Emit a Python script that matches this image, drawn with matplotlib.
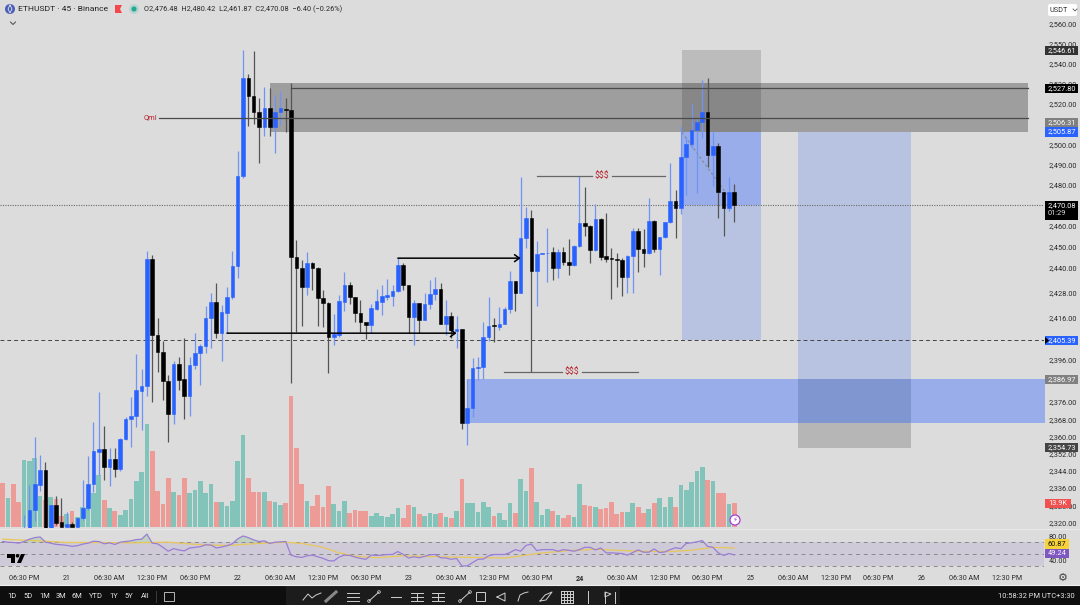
import numpy as np
import matplotlib
matplotlib.use("Agg")
import matplotlib.pyplot as plt
from matplotlib.patches import Rectangle, Circle, Polygon, FancyBboxPatch
from matplotlib.ticker import NullLocator

plt.rcParams['font.family'] = ['Roboto', 'DejaVu Sans']

# candles, first four bars sit below the visible price range
first_bar = 4
opens = [
    2316, 2315, 2326.1, 2337.6, 2344.5, 2316, 2328.4, 2320.5, 2318.2, 2319.6,
    2318.2, 2322.4, 2327, 2338, 2352.7, 2354.1, 2345.8, 2349.5, 2344.9, 2358.6,
    2368, 2369.4, 2381.1, 2383.4, 2443.9, 2407.4, 2399.8, 2385.8, 2370.4, 2394.1,
    2386.7, 2378.8, 2393.2, 2399.3, 2402.2, 2415.5, 2423.2, 2408.4, 2417.9, 2425.6,
    2440.5, 2484.4, 2533, 2524, 2516, 2508.5, 2518, 2508.5, 2516, 2517.5,
    2517, 2444.9, 2439.5, 2430.4, 2441.9, 2439.5, 2425.1, 2422.7, 2406.5, 2407.4,
    2423.2, 2431.4, 2425.6, 2417.9, 2413.6, 2412.2, 2419.8, 2423.2, 2425.6, 2426.1,
    2428.5, 2441, 2431.4, 2416, 2422.7, 2415, 2422.2, 2427, 2429.4, 2413.1,
    2416.5, 2409.3, 2410.3, 2366.1, 2373.2, 2391.8, 2392.7, 2406.5, 2412.2, 2411.2,
    2413.1, 2419.8, 2433.3, 2427.5, 2454.1, 2463.9, 2438.1, 2446.3, 2446.8, 2447.3,
    2439.5, 2447.3, 2442.4, 2441, 2450.2, 2461.5, 2460, 2448.3, 2463.4, 2445.4,
    2444.4, 2443.9, 2443.4, 2435.2, 2445.4, 2457.6, 2448.8, 2446.8, 2462.4, 2448.8,
    2454.6, 2462, 2472.2, 2468.8, 2493.7, 2500, 2507, 2511, 2516, 2494.6,
    2499, 2476.6, 2468.8, 2476.48]
highs = [
    2323.8, 2337.6, 2359.5, 2351.3, 2348.1, 2328.4, 2332.5, 2331.6, 2325.1, 2320.5,
    2322.4, 2339.9, 2350.9, 2366.6, 2380.7, 2364.8, 2354.5, 2354.5, 2359, 2368.9,
    2378.3, 2398.4, 2391.4, 2447.8, 2445.8, 2415.5, 2405, 2388.6, 2395.5, 2397,
    2406, 2397, 2408.4, 2403.6, 2421.3, 2427.5, 2432.3, 2421.8, 2430.4, 2447.8,
    2496.6, 2547, 2535, 2546.5, 2523, 2528.5, 2528, 2524.5, 2526.5, 2523,
    2530.5, 2453.2, 2443.4, 2447.3, 2442.4, 2440, 2429, 2423.2, 2417.4, 2426.6,
    2437.6, 2432.8, 2425.6, 2424.2, 2413.6, 2422.2, 2429.4, 2431.4, 2434.2, 2431.4,
    2444.4, 2441.9, 2431.4, 2424.2, 2422.7, 2427.5, 2433.8, 2435.2, 2432.3, 2424.2,
    2418.4, 2416.5, 2410.3, 2386.7, 2396.5, 2397, 2413.6, 2425.6, 2415.5, 2420.8,
    2420.8, 2438.1, 2433.3, 2483.9, 2469.3, 2467.8, 2452.7, 2446.8, 2459, 2449.8,
    2448.8, 2449.8, 2453.7, 2450.7, 2484.4, 2479, 2460.5, 2470.7, 2463.9, 2466.3,
    2449.3, 2446.8, 2444.4, 2445.8, 2459, 2459, 2458.5, 2473.7, 2462.9, 2454.6,
    2462, 2490.7, 2477.6, 2509, 2503.5, 2520, 2513, 2532, 2533, 2506,
    2500.5, 2476.6, 2483.9, 2480.42]
lows = [
    2310, 2314, 2321, 2334.8, 2315, 2315, 2319, 2318, 2318, 2318,
    2318, 2321.4, 2326.1, 2334.3, 2342.2, 2339.9, 2337.1, 2341.2, 2344, 2358.2,
    2355, 2364.3, 2362.8, 2378.8, 2376, 2390, 2376.9, 2357.3, 2365.7, 2381.6,
    2368, 2369.4, 2391.4, 2383.9, 2398.9, 2401.7, 2406, 2395.5, 2408.4, 2425,
    2434.7, 2483.4, 2509, 2510, 2490.7, 2504, 2504, 2495.6, 2509.5, 2506,
    2384.8, 2408.9, 2411.7, 2426.6, 2429, 2411.7, 2411.2, 2389.5, 2403.1, 2406.5,
    2418.9, 2422.2, 2413.6, 2408.9, 2405.5, 2408.4, 2419.4, 2417, 2424.2, 2421.3,
    2428, 2429, 2408.4, 2403.1, 2408.4, 2414.6, 2419.8, 2424.2, 2413.1, 2407.4,
    2406, 2401.7, 2363.3, 2355.9, 2368.9, 2386.2, 2386.7, 2405, 2404.1, 2409.8,
    2412.7, 2417.9, 2418.9, 2427.5, 2449.3, 2390, 2421.3, 2446.3, 2432.8, 2433.8,
    2434.7, 2441, 2436.2, 2440.5, 2449.8, 2455.1, 2441.9, 2447.8, 2443.4, 2442.4,
    2424.6, 2430.4, 2426.1, 2427.5, 2427.5, 2437.6, 2440, 2446.3, 2447.3, 2436.2,
    2454.1, 2461.5, 2454.1, 2465.8, 2475.1, 2498, 2476.1, 2503, 2488.8, 2479.5,
    2463.9, 2455.1, 2467.3, 2461.87]
closes = [
    2317, 2326.1, 2338, 2344.5, 2316, 2328.4, 2320, 2318.2, 2319.6, 2318.2,
    2322.4, 2327, 2338, 2353.1, 2354.1, 2345.8, 2349.5, 2344.9, 2358.6, 2368,
    2369.4, 2381.6, 2383.4, 2443.9, 2407.4, 2399.8, 2385.8, 2370.4, 2394.1, 2386.2,
    2378.8, 2393.2, 2399.3, 2402.2, 2415.5, 2423.2, 2408.4, 2418.4, 2425.6, 2440.5,
    2484.4, 2533, 2524, 2516, 2508.5, 2518, 2508.5, 2516, 2518, 2517,
    2444.9, 2439.5, 2430.4, 2441.9, 2439.5, 2425.1, 2422.7, 2406.5, 2407.9, 2423.7,
    2431.4, 2425.6, 2417.9, 2413.6, 2412.2, 2420.3, 2423.7, 2426.1, 2426.6, 2428.5,
    2441, 2431.4, 2416, 2422.7, 2415, 2422.2, 2427, 2429.4, 2413.1, 2416.5,
    2409.8, 2410.3, 2366.1, 2373.2, 2391.8, 2392.7, 2406.5, 2411.7, 2411.7, 2413.1,
    2419.8, 2433.3, 2427.5, 2454.1, 2463.9, 2438.1, 2446.3, 2446.8, 2447.1, 2439.5,
    2447.3, 2442.4, 2441, 2450.2, 2461.5, 2460, 2448.3, 2463.4, 2444.9, 2443.9,
    2443.9, 2443.4, 2435.2, 2445.4, 2457.6, 2448.8, 2446.8, 2462.4, 2448.8, 2454.6,
    2462, 2472.2, 2468.8, 2493.7, 2500, 2507, 2511, 2516, 2494.6, 2499,
    2476.6, 2468.8, 2476.6, 2470.08]

# volume in thousands, from bar 0
volumes = [
    25.3, 16.6, 24.9, 14.7, 38.9, 38.3, 40.2, 18.0, 15.7, 17.6,
    16.0, 6.4, 7.5, 9.3, 5.6, 11.4, 15.7, 19.5, 30.2, 15.7,
    11.0, 9.5, 6.8, 9.9, 16.2, 26.9, 32.1, 59.9, 43.9, 20.7,
    13.1, 28.2, 20.5, 18.8, 28.2, 19.9, 21.5, 26.7, 19.9, 24.9,
    14.7, 14.5, 12.2, 15.3, 38.1, 53.4, 28.2, 20.5, 20.5, 20.1,
    15.1, 14.3, 12.8, 13.9, 76.2, 45.6, 24.7, 14.9, 12.0, 18.8,
    11.8, 24.0, 13.5, 9.1, 14.9, 8.3, 9.7, 9.1, 9.1, 6.2,
    7.9, 6.2, 5.6, 7.5, 10.8, 5.4, 13.0, 11.6, 7.7, 6.6,
    8.3, 7.5, 7.9, 5.6, 5.2, 9.3, 27.8, 14.1, 13.7, 8.9,
    14.7, 11.8, 6.6, 7.9, 4.3, 13.7, 8.3, 27.8, 20.7, 34.0,
    14.5, 7.2, 10.4, 9.5, 7.0, 5.0, 7.0, 5.6, 25.1, 12.8,
    12.2, 11.6, 10.4, 11.2, 14.7, 7.5, 8.9, 8.5, 14.1, 11.8,
    8.3, 10.6, 13.7, 16.6, 11.8, 17.4, 11.8, 24.6, 21.3, 26.1,
    32.5, 34.6, 27.1, 26.9, 19.9, 19.7, 13.1, 13.9]
first_vol_up = [False, True, False, False]

rsi = [
    71.6, 70.5, 70, 68.9, 71.6, 75.4, 78.1, 79.2, 70.5, 68.9,
    66.7, 66.2, 65.1, 63.5, 64.6, 67.3, 68.9, 72.1, 71.6, 67.8,
    69.4, 66.7, 70.5, 71.6, 72.7, 74.8, 75.4, 84, 68.9, 67.8,
    61.9, 55.4, 59.7, 57.6, 55.9, 60.8, 61.9, 63, 66.2, 65.7,
    60.8, 62.4, 64.6, 67.8, 75.9, 80.8, 78.1, 74.3, 71.6, 72.7,
    68.4, 70.5, 71, 71.6, 48.9, 46.2, 45.1, 47.8, 48.9, 46.2,
    43.5, 39.7, 39.2, 45.7, 48.9, 48.4, 45.7, 43.5, 41.9, 48.9,
    48.4, 48.9, 50, 50, 54.9, 50, 44.1, 46.2, 44.6, 46.8,
    49.5, 50, 44.6, 44.1, 41.9, 43.5, 30.6, 31.1, 36.5, 41.9,
    42.4, 47.8, 50, 50, 50, 53.2, 58.1, 55.4, 65.1, 67.3,
    56.5, 58.1, 58.1, 58.1, 55.4, 58.1, 57, 55.4, 58.1, 61.9,
    61.9, 57.6, 60.8, 52.7, 52.7, 52.2, 51.6, 48.9, 53.2, 57.6,
    53.8, 53.8, 59.2, 53.2, 54.3, 58.1, 61.3, 59.7, 68.4, 69.4,
    71.1, 73.2, 63.5, 61.9, 52.7, 48.4, 51.6, 49.24]
rsi_ma_bars = [0, 6, 12, 18, 24, 31, 37, 42, 48, 53, 56, 60, 63, 66, 70, 75, 84, 94,
               97, 100, 106, 111, 119, 125, 129, 133, 137]
rsi_ma = [75.4, 73.2, 70, 70, 69.4, 70.5, 66.2, 65, 68.4, 70.5, 68.4, 61.9, 52.7, 47,
          44.6, 47.8, 45.7, 44.1, 47.3, 51.6, 56.5, 58.6, 55.4, 54.9, 57, 61.9, 60.87]

price_ticks = [2560, 2550, 2540, 2530, 2520, 2500, 2490, 2480, 2460, 2450, 2440,
               2428, 2416, 2396, 2376, 2368, 2360, 2352, 2344, 2336, 2328, 2320]
rsi_ticks = [80, 40]
time_labels = ['06:30 PM', '21', '06:30 AM', '12:30 PM', '06:30 PM', '22', '06:30 AM', '12:30 PM',
               '06:30 PM', '23', '06:30 AM', '12:30 PM', '06:30 PM', '24', '06:30 AM', '12:30 PM',
               '06:30 PM', '25', '06:30 AM', '12:30 PM', '06:30 PM', '26', '06:30 AM', '12:30 PM']
range_labels = ['1D', '5D', '1M', '3M', '6M', 'YTD', '1Y', '5Y', 'All']
range_x = [12, 28, 45, 61, 77, 96, 114, 129, 145]

# drawings on the chart (bar index / price)
zone_dark = (50.1, 192, 2505.87, 2530.5)
zone_stop = (127.2, 142, 2505.87, 2546.61)
zone_take = (127.2, 142, 2405.39, 2470.08)
zone_entry = (127.2, 142, 2470.08, 2505.87)
zone_right_blue = (149, 170.1, 2386.97, 2505.87)
zone_right_grey = (149, 170.1, 2354.73, 2386.97)
zone_band = (87, 200, 2366.1, 2386.97)
last_price = 2470.08
dashed_price = 2405.39

BG = '#dcdcdc'
BLUE = '#2962ff'
W, H = 1080, 605
fig = plt.figure(figsize=(W / 100, H / 100), dpi=100, facecolor=BG)


def pane(top, bottom, z):
    a = fig.add_axes([0, 1 - bottom / H, 1044 / W, (bottom - top) / H], zorder=z)
    for s in a.spines.values():
        s.set_visible(False)
    a.set_xlim(-0.506, 195.0)
    a.tick_params(length=0, labelsize=5.3, labelcolor='#2a2a2a')
    return a


# volume pane lies under the price pane
vol_ax = pane(0, 528, 1)
vol_ax.set_facecolor(BG)
vol_ax.set_ylim(-0.6, 306)
vol_ax.set_xticks([])
vol_ax.set_yticks([])
vol_up = first_vol_up + [c >= o for o, c in zip(opens, closes)]
vol_ax.bar(np.arange(len(volumes)), volumes, width=0.88,
           color=['#82c4ba' if u else '#ec9b97' for u in vol_up])

ax = pane(0, 528, 2)
ax.patch.set_alpha(0)
ax.set_yscale('log')
ax.set_ylim(2317.7, 2572.1)
ax.yaxis.set_minor_locator(NullLocator())
ax.yaxis.tick_right()
ax.set_yticks(price_ticks, [f'{p:,.2f}' for p in price_ticks])
ax.tick_params(axis='y', pad=3.4)
ax.set_xticks([])


def zone(box, color, alpha):
    x0, x1, p0, p1 = box
    ax.fill_between([x0, x1], p0, p1, color=color, alpha=alpha, lw=0, zorder=1)


zone(zone_right_blue, BLUE, 0.2)
zone(zone_right_grey, 'black', 0.17)
zone(zone_take, BLUE, 0.2)
zone(zone_entry, BLUE, 0.38)
zone(zone_band, BLUE, 0.38)
zone(zone_stop, 'black', 0.14)
zone(zone_dark, 'black', 0.28)

ax.axhline(last_price, color='#6a6a6a', lw=0.8, ls=(0, (1, 1.2)), zorder=2)
ax.axhline(dashed_price, color='#444444', lw=0.7, ls=(0, (4, 3)), zorder=2)
ax.plot([127.2, 137.1], [2505.87, 2470.08], color='#8c8c8c', lw=0.9, ls=(0, (2, 2)), zorder=2)

# candles
bars = np.arange(first_bar, first_bar + len(opens))
o, h, l, c = map(np.array, (opens, highs, lows, closes))
up = c >= o
ax.vlines(bars, l, h, colors=np.where(up, '#6f94f6', '#555555'), lw=0.9, zorder=3)
ax.bar(bars, np.abs(c - o), bottom=np.minimum(o, c), width=0.68,
       color=np.where(up, BLUE, '#000000'), edgecolor=np.where(up, BLUE, '#000000'), lw=0.4, zorder=4)

# lines and arrows on top
ax.plot([54, 192], [2527.8, 2527.8], color='#4a4a4a', lw=0.9, zorder=5)
ax.plot([29.3, 192], [2513, 2513], color='#4a4a4a', lw=0.9, zorder=5)
for x0, x1, p in [(42, 85, 2408.5), (74, 97, 2444.4)]:
    ax.annotate('', xy=(x1, p), xytext=(x0, p), zorder=5,
                arrowprops=dict(arrowstyle='->,head_length=0.35,head_width=0.25', color='black', lw=1.1,
                                shrinkA=0, shrinkB=0))
for x0, x1, xm, p in [(100, 124, 112.2, 2484.5), (93.9, 119, 106.6, 2390.3)]:
    ax.plot([x0, xm - 1.9], [p, p], color='#666666', lw=0.9, zorder=5)
    ax.plot([xm + 1.9, x1], [p, p], color='#666666', lw=0.9, zorder=5)
    ax.text(xm, p, '$$$', color='#b4232f', fontsize=6.2, ha='center', va='center', zorder=6)
ax.text(29, 2513, 'Qml', color='#b4232f', fontsize=5.4, ha='right', va='center', zorder=6)

# rsi pane
rsi_ax = pane(530, 578, 2)
rsi_ax.set_facecolor(BG)
rsi_ax.set_ylim(10.8, 90.8)
rsi_ax.yaxis.tick_right()
rsi_ax.set_yticks(rsi_ticks, [f'{v:.2f}' for v in rsi_ticks])
rsi_ax.tick_params(axis='y', pad=3.4)
rsi_ax.axhspan(30, 70, color='#7e57c2', alpha=0.13, lw=0)
for v in (30, 50, 70):
    rsi_ax.axhline(v, color='#8a8a8a', lw=0.7, ls=(0, (4, 4)))
rsi_x = np.arange(len(rsi))
rsi_ax.fill_between(rsi_x, 70, rsi, where=np.array(rsi) > 70, color='#4caf50', alpha=0.2, lw=0, interpolate=True)
rsi_ax.plot(rsi_ma_bars, rsi_ma, color='#e8c75a', lw=0.9)
rsi_ax.plot(rsi_x, rsi, color='#9a7ed6', lw=0.9)
rsi_ax.set_xticks(np.arange(4, 196, 8)[:len(time_labels)], time_labels)
rsi_ax.tick_params(axis='x', pad=-2, labelsize=5.1)
for t in rsi_ax.get_xticklabels():
    if t.get_text() == '24':
        t.set_fontweight('bold')

# everything else, in screen pixels
ui = fig.add_axes([0, 0, 1, 1], zorder=5)
ui.patch.set_alpha(0)
ui.set_xlim(0, W)
ui.set_ylim(H, 0)
ui.axis('off')

ui.plot([0, W], [528.5, 528.5], color='#e9e9e9', lw=0.8)
ui.plot([0, W], [585, 585], color='#f0f0f0', lw=0.8)


def price_box(y, text, face, fg='white', h=9.5, x0=1045, x1=1078):
    ui.add_patch(Rectangle((x0, y - h / 2), x1 - x0, h, color=face, lw=0))
    ui.text((x0 + x1) / 2, y, text, color=fg, fontsize=5.3, ha='center', va='center')


price_box(50.5, '2,546.61', '#333333')
price_box(88.5, '2,527.80', '#000000')
price_box(122.5, '2,506.31', '#808080')
price_box(132, '2,505.87', BLUE)
ui.add_patch(Rectangle((1045, 200.5), 33, 19, color='#000000', lw=0))
ui.text(1061.5, 205.5, '2,470.08', color='white', fontsize=5.3, ha='center', va='center')
ui.text(1056.5, 213.5, '01:29', color='#dddddd', fontsize=5.3, ha='center', va='center')
price_box(340.5, '2,405.39', BLUE)
ui.add_patch(Polygon([(1045, 337), (1045, 344), (1049, 340.5)], color='black', lw=0))
price_box(379.5, '2,386.97', '#808080')
price_box(447.5, '2,354.73', '#444444')
price_box(503.5, '13.9K', '#f15050', x1=1071)
price_box(544, '60.87', '#f7d33a', fg='#111111', x1=1069)
price_box(553.5, '49.24', '#7e57c2', x1=1069)

ui.add_patch(FancyBboxPatch((1048, 4), 29, 12, boxstyle='round,pad=0,rounding_size=2', color='white', lw=0))
ui.text(1049.5, 10, 'USDT', color='#333333', fontsize=5.3, ha='left', va='center')
ui.plot([1073, 1075, 1077], [9, 11, 9], color='#555555', lw=0.6)

# header
ui.add_patch(Circle((10, 9), 5, color='#4a5fb5', lw=0))
ui.plot([10, 8, 10, 12, 10], [5, 9, 13, 9, 5], color='white', lw=0.5)
ui.text(18, 9.2, 'ETHUSDT · 45 · Binance', color='#222222', fontsize=6.1, ha='left', va='center')
ui.add_patch(Polygon([(115, 5), (122, 5), (120, 9), (122, 13), (115, 13)], color='#f4474b', lw=0))
ui.add_patch(Circle((134, 9), 5, color='#bcd3cf', lw=0))
ui.add_patch(Circle((134, 9), 2.6, color='#22ab94', lw=0))
ui.text(144, 9.2, 'O2,476.48  H2,480.42  L2,461.87  C2,470.08  −6.40 (−0.26%)', color='#2a2a2a',
        fontsize=5.35, ha='left', va='center')
ui.plot([10.5, 13, 15.5], [22, 24.5, 22], color='#444444', lw=0.7)

# tv logo and alert badge
ui.add_patch(Polygon([(7, 554), (15, 554), (15, 563), (10.5, 563), (10.5, 557.5), (7, 557.5)], color='black', lw=0))
ui.add_patch(Circle((17.5, 555.8), 1.8, color='black', lw=0))
ui.add_patch(Polygon([(17, 563), (21, 554), (25, 554), (21, 563)], color='black', lw=0))
ui.add_patch(Circle((735, 520), 5, facecolor='white', edgecolor='#a63fd6', lw=0.9))
ui.text(735, 520, '⚡', color='#a63fd6', fontsize=5, ha='center', va='center', family=['DejaVu Sans'])
ui.text(1063, 578, '⚙', color='#444444', fontsize=8, ha='center', va='center', family=['DejaVu Sans'])

# bottom toolbar
ui.add_patch(Rectangle((0, 586), W, 19, color='#0e0e0e', lw=0))
ui.add_patch(Rectangle((286, 586), 334, 19, color='#1c1c1c', lw=0))
for x, t in zip(range_x, range_labels):
    ui.text(x, 597, t, color='#e6e6e6', fontsize=5.4, ha='center', va='center')
ui.plot([156, 156], [591, 602], color='#3c3c3c', lw=0.7)
ui.add_patch(Rectangle((164, 592), 10, 9, fill=False, edgecolor='#d0d0d0', lw=0.6))
ui.text(1075, 596.5, '10:58:32 PM UTC+3:30', color='#e6e6e6', fontsize=5.4, ha='right', va='center')

ic = '#cfcfcf'
ui.plot([303, 308, 312, 316, 321], [600, 594, 598, 595, 593], color=ic, lw=0.7)
ui.plot([326, 336], [601, 592], color=ic, lw=2.2, alpha=0.6)
for yy in (592.5, 596.5, 600.5):
    ui.plot([347, 359], [yy, yy], color=ic, lw=0.7)
for x0 in (369, 460):
    ui.plot([x0, x0 + 10], [601, 592], color=ic, lw=0.7)
    ui.scatter([x0, x0 + 10], [601, 592], s=4, facecolor='none', edgecolor=ic, lw=0.5)
ui.plot([391, 401], [597, 597], color=ic, lw=0.7)
for x0 in (411, 432):
    for yy in (592.5, 596.5, 600.5):
        ui.plot([x0, x0 + 12], [yy, yy], color=ic, lw=0.7)
    ui.plot([x0 + 6, x0 + 6], [592.5, 600.5], color=ic, lw=0.7)
ui.add_patch(Rectangle((476, 592), 9, 9, fill=False, edgecolor=ic, lw=0.7))
ui.plot([497, 505, 505, 497], [597, 593, 601, 597], color=ic, lw=0.7)
ui.plot([518, 520, 524, 528], [601, 595, 593, 592], color=ic, lw=0.7)
ui.plot([540, 545, 552, 546, 540], [601, 595, 592, 600, 601], color=ic, lw=0.7)
for k in range(5):
    ui.plot([561 + 3 * k, 561 + 3 * k], [591, 603], color=ic, lw=0.7)
    ui.plot([561, 573], [591 + 3 * k, 591 + 3 * k], color=ic, lw=0.7)
ui.plot([588, 588], [591, 603], color=ic, lw=0.7)
ui.plot([605, 605], [592, 603], color=ic, lw=0.7)
ui.add_patch(Polygon([(605, 592), (611, 594), (605, 597)], fill=False, edgecolor=ic, lw=0.7))
ui.plot([615, 615], [592, 603], color=ic, lw=0.7)

fig.savefig('out.png', dpi=100, facecolor=BG)
